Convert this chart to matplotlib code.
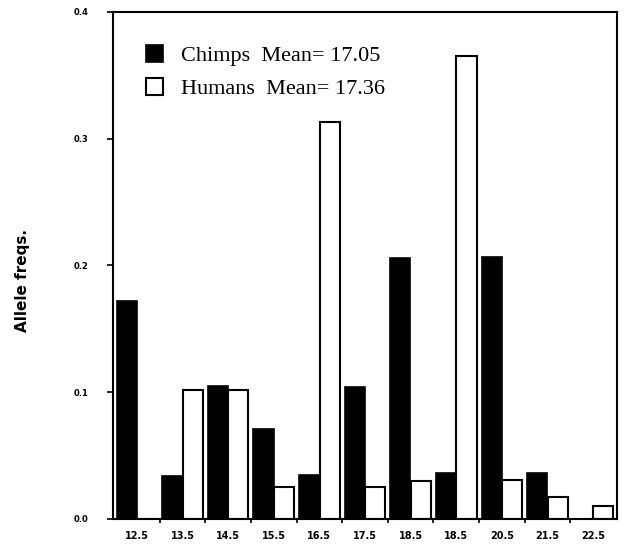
import numpy as np
import matplotlib.pyplot as plt
from matplotlib.ticker import FixedLocator

# repeat-length classes and allele frequencies
classes = ['12.5', '13.5', '14.5', '15.5', '16.5', '17.5',
           '18.5', '18.5', '20.5', '21.5', '22.5']
chimps = [0.172, 0.034, 0.105, 0.071, 0.035, 0.104,
          0.206, 0.036, 0.207, 0.036, 0.0]
humans = [0.0, 0.102, 0.102, 0.025, 0.313, 0.025,
          0.030, 0.365, 0.031, 0.017, 0.010]
yticks = [0.0, 0.1, 0.2, 0.3, 0.4]
ytick_labels = ['0.0', '0.1', '0.2', '0.3', '0.4']

fig = plt.figure(figsize=(6.25, 5.44), dpi=100)
ax = fig.add_axes([0.181, 0.046, 0.806, 0.932])

x = np.arange(len(classes))
w = 0.44
ax.bar(x - 0.225, chimps, w, color='black', edgecolor='black', linewidth=1.2,
       label='Chimps  Mean= 17.05')
ax.bar(x + 0.225, humans, w, color='white', edgecolor='black', linewidth=1.5,
       label='Humans  Mean= 17.36')

ax.set_xlim(-0.52, len(classes) - 0.48)
ax.set_ylim(0, 0.4)

ax.set_xticks(x)
ax.set_xticklabels(classes, fontsize=7, fontweight='bold', family='DejaVu Sans')
ax.tick_params(axis='x', which='major', length=0, pad=9)
ax.xaxis.set_minor_locator(FixedLocator(x[1:] - 0.5))
ax.tick_params(axis='x', which='minor', length=3, width=1.2, direction='out')

ax.set_yticks(yticks)
ax.set_yticklabels(ytick_labels, fontsize=6, fontweight='bold', family='DejaVu Sans')
ax.tick_params(axis='y', length=4, width=1.2, direction='out', pad=14)

for s in ax.spines.values():
    s.set_linewidth(1.5)

ax.set_ylabel('Allele freqs.', fontsize=11, fontweight='bold', family='DejaVu Sans')
ax.yaxis.set_label_coords(-0.165, 0.47)

ax.legend(loc='upper left', bbox_to_anchor=(0.025, 0.975), frameon=False,
          prop={'family': 'Liberation Serif', 'size': 16},
          handlelength=0.8, handleheight=0.8, handletextpad=0.8,
          labelspacing=0.55)

fig.savefig('out.png', dpi=100)
